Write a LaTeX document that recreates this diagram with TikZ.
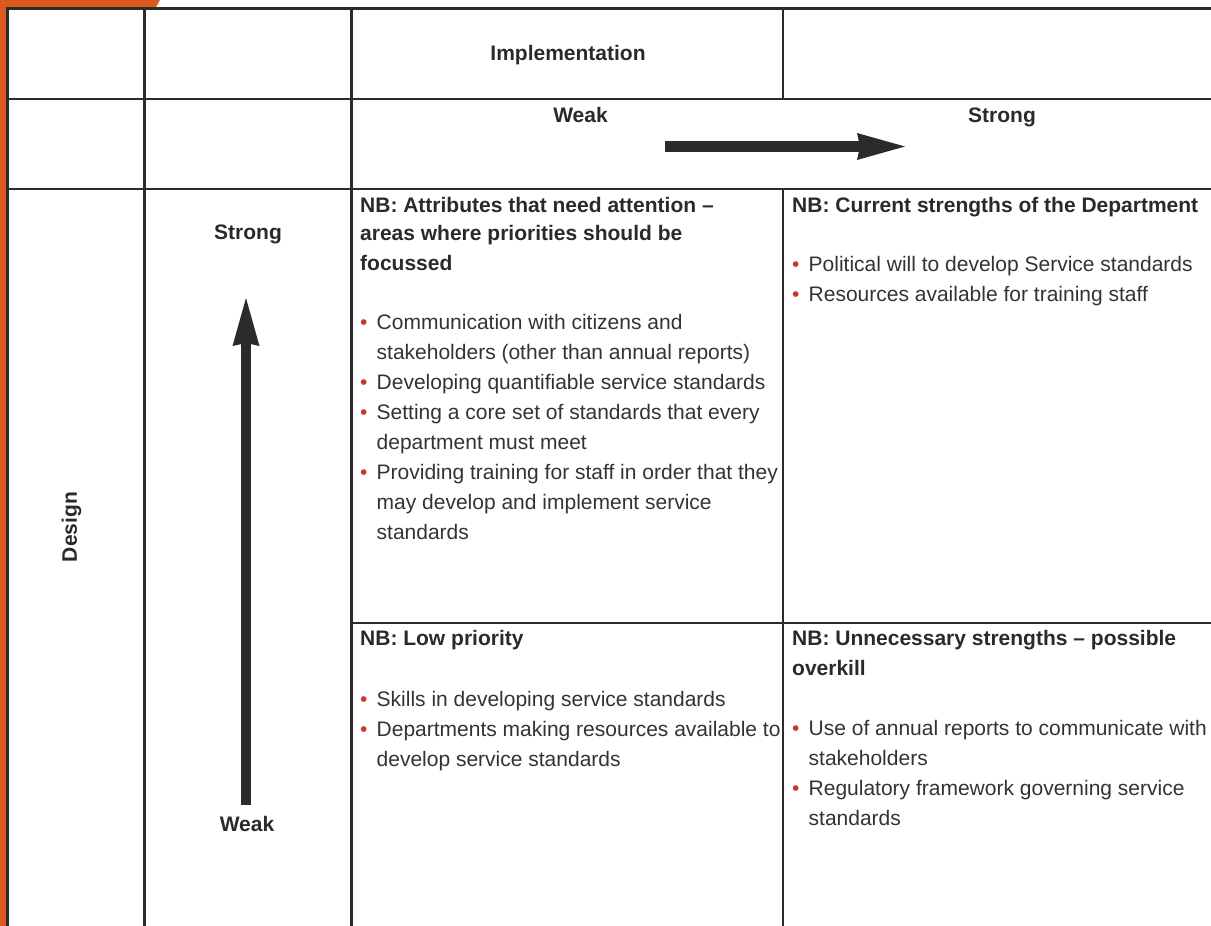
\documentclass[tikz,border=0pt]{standalone}
\usepackage{fontspec}
\setmainfont{Liberation Sans}
\usepackage{xcolor}
\usetikzlibrary{arrows.meta}
\definecolor{gridline}{HTML}{2D2A2B}
\definecolor{nbred}{HTML}{C8372D}
\definecolor{pageorange}{HTML}{DD5A1E}
\definecolor{bodytext}{HTML}{2A2A2A}
\definecolor{itemtext}{HTML}{333333}
\tikzset{%
  gridrule/.style={draw=gridline, line width=2.6pt},
  axislabel/.style={font=\fontsize{21}{30}\selectfont\bfseries, text=bodytext, inner sep=0pt, anchor=base},
  quadrant/.style={font=\fontsize{21}{30}\selectfont, text=itemtext, inner sep=0pt, anchor=base west, align=left},
  bigarrow/.style={draw=gridline, line width=11pt, -{Stealth[length=48pt,width=27pt,inset=3pt,line width=0pt]}},
}
\newcommand{\nbhead}[1]{\textcolor{bodytext}{\textbf{#1}}}
\newcommand{\nbitem}{\makebox[16.5pt][l]{\textcolor{nbred}{•}}}
\newcommand{\nbcont}{\hspace*{16.5pt}}

\begin{document}
\begin{tikzpicture}[x=1pt,y=-1pt]
  \useasboundingbox (0,0) rectangle (1211,926);
  % page edge
  \fill[pageorange] (0,0) -- (160,0) -- (156,7) -- (6,7) -- (6,926) -- (0,926) -- cycle;

  % table rules
  \draw[gridrule] (1211,8.5) -- (7.5,8.5) -- (7.5,926);
  \draw[gridrule] (7.5,99) -- (1211,99);
  \draw[gridrule] (7.5,189) -- (1211,189);
  \draw[gridrule] (351.5,623) -- (1211,623);
  \draw[gridrule] (144.5,8.5) -- (144.5,926);
  \draw[gridrule] (351.5,8.5) -- (351.5,926);
  \draw[gridrule] (783,8.5) -- (783,99);
  \draw[gridrule] (783,189) -- (783,926);

  % axis labels
  \node[axislabel] (impl) at (568,60) {Implementation};
  \node[axislabel] (implweak) at (580.5,122) {Weak};
  \node[axislabel] (implstrong) at (1002,122) {Strong};
  \node[axislabel] (designstrong) at (248,239) {Strong};
  \node[axislabel] (designweak) at (247,831) {Weak};
  \node[axislabel, anchor=center, rotate=90] (design) at (71.6,527) {Design};

  % arrows
  \coordinate (hfrom) at (665,146.5);
  \coordinate (hto) at (905,146.5);
  \draw[bigarrow] (hfrom) -- (hto);
  \coordinate (vfrom) at (246,805);
  \coordinate (vto) at (246,298);
  \draw[bigarrow, line width=10pt] (vfrom) -- (vto);

  % quadrants (placed by the baseline of their last line)
  \node[quadrant] (attention) at (360,539) {\nbhead{NB: Attributes that need attention –}\\[-2pt]
    \nbhead{areas where priorities should be}\\
    \nbhead{focussed}\\[29pt]
    \nbitem Communication with citizens and\\
    \nbcont stakeholders (other than annual reports)\\
    \nbitem Developing quantifiable service standards\\
    \nbitem Setting a core set of standards that every\\
    \nbcont department must meet\\
    \nbitem Providing training for staff in order that they\\
    \nbcont may develop and implement service\\
    \nbcont standards};
  \node[quadrant] (strengths) at (792,301) {\nbhead{NB: Current strengths of the Department}\\[29pt]
    \nbitem Political will to develop Service standards\\
    \nbitem Resources available for training staff};
  \node[quadrant] (lowprio) at (360,766) {\nbhead{NB: Low priority}\\[31pt]
    \nbitem Skills in developing service standards\\
    \nbitem Departments making resources available to\\
    \nbcont develop service standards};
  \node[quadrant] (overkill) at (792,825) {\nbhead{NB: Unnecessary strengths – possible}\\
    \nbhead{overkill}\\[30pt]
    \nbitem Use of annual reports to communicate with\\
    \nbcont stakeholders\\
    \nbitem Regulatory framework governing service\\
    \nbcont standards};
\end{tikzpicture}
\end{document}
